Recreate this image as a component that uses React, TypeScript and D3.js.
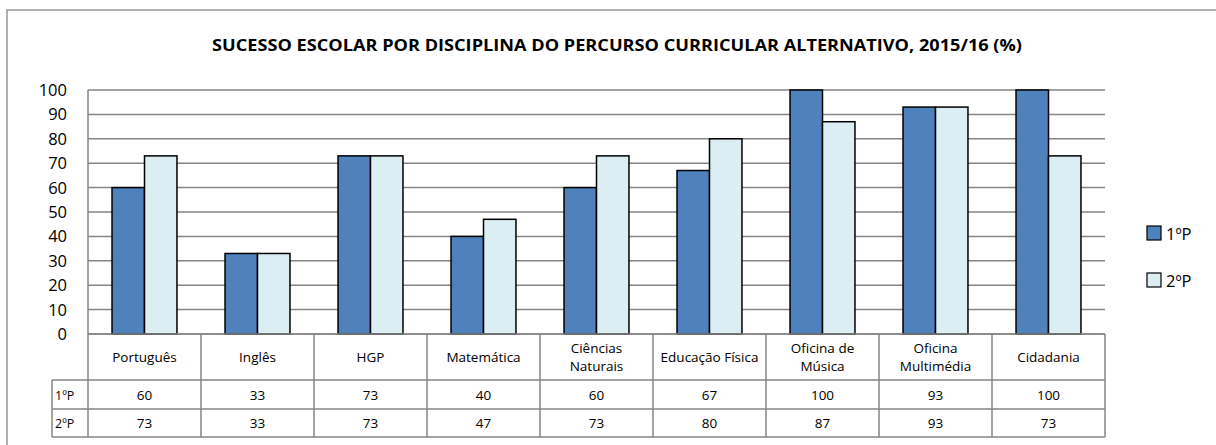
import React from 'react';
import * as d3 from 'd3';

const title = 'SUCESSO ESCOLAR POR DISCIPLINA DO PERCURSO CURRICULAR ALTERNATIVO, 2015/16 (%)';
const categories = ['Português', 'Inglês', 'HGP', 'Matemática', 'Ciências Naturais', 'Educação Física', 'Oficina de Música', 'Oficina Multimédia', 'Cidadania'];
const categoryLines = [['Português'], ['Inglês'], ['HGP'], ['Matemática'], ['Ciências', 'Naturais'], ['Educação Física'], ['Oficina de', 'Música'], ['Oficina', 'Multimédia'], ['Cidadania']];
const seriesNames = ['1ºP', '2ºP'];
const p1 = [60, 33, 73, 40, 60, 67, 100, 93, 100];
const p2 = [73, 33, 73, 47, 73, 80, 87, 93, 73];
const yTicks = [0, 10, 20, 30, 40, 50, 60, 70, 80, 90, 100];
const colors = ['#4F81BD', '#DBEEF3'];

const W = 1216, H = 445;
const left = 88, right = 1105, top = 90, bottom = 334;
const rowCat = 380, row1 = 409, row2 = 437, labelLeft = 52;
const font = '"Open Sans", "Noto Sans", sans-serif';
const grid = '#868686';

const App = () => {
  const x = d3.scaleBand<string>().domain(categories).range([left, right]);
  const xs = d3.scaleBand<string>().domain(seriesNames).range([0, x.bandwidth()]).paddingOuter(0.74);
  const y = d3.scaleLinear().domain([0, 100]).range([bottom, top]);
  const values = [p1, p2];

  return (
    <svg width={W} height={H} style={{ position: 'absolute', left: 0, top: 0, background: '#fff' }} fontFamily={font}>
      <rect x={7} y={10} width={W} height={H} fill="#fff" stroke="#999" strokeWidth={1.5} />
      <text x={617} y={51} textAnchor="middle" fontWeight="bold" fontSize={15.5} textLength={810} lengthAdjust="spacingAndGlyphs">{title}</text>

      {yTicks.map(t => (
        <g key={t}>
          <line x1={left} x2={right} y1={y(t)} y2={y(t)} stroke={grid} strokeWidth={1.5} />
          <text x={67} y={y(t) + 6} textAnchor="end" fontSize={16.5}>{t}</text>
        </g>
      ))}
      <line x1={left} x2={left} y1={top} y2={row2} stroke={grid} strokeWidth={1.5} />

      {categories.map((c, i) => seriesNames.map((s, j) => (
        <rect key={c + s} x={x(c)! + xs(s)!} y={y(values[j][i])} width={xs.bandwidth()} height={bottom - y(values[j][i])}
          fill={colors[j]} stroke="#000" strokeWidth={1.5} />
      )))}

      {/* data table */}
      <g stroke={grid} strokeWidth={1.5}>
        <line x1={left} x2={right} y1={bottom} y2={bottom} />
        <line x1={labelLeft} x2={right} y1={rowCat} y2={rowCat} />
        <line x1={labelLeft} x2={right} y1={row1} y2={row1} />
        <line x1={labelLeft} x2={right} y1={row2} y2={row2} />
        <line x1={labelLeft} x2={labelLeft} y1={rowCat} y2={row2} />
        {categories.map(c => (
          <line key={c} x1={x(c)! + x.bandwidth()} x2={x(c)! + x.bandwidth()} y1={bottom} y2={row2} />
        ))}
      </g>
      {categories.map((c, i) => {
        const cx = x(c)! + x.bandwidth() / 2;
        const lines = categoryLines[i];
        const cy = (bottom + rowCat) / 2;
        return (
          <g key={c} fontSize={13.5} textAnchor="middle">
            {lines.map((l, k) => (
              <text key={k} x={cx} y={cy + 5 + (k - (lines.length - 1) / 2) * 18}>{l}</text>
            ))}
            <text x={cx} y={(rowCat + row1) / 2 + 5}>{p1[i]}</text>
            <text x={cx} y={(row1 + row2) / 2 + 5}>{p2[i]}</text>
          </g>
        );
      })}
      {seriesNames.map((s, j) => (
        <text key={s} x={55} y={(j === 0 ? (rowCat + row1) : (row1 + row2)) / 2 + 5} fontSize={12.5}>{s}</text>
      ))}

      {/* legend */}
      {seriesNames.map((s, j) => (
        <g key={s} transform={`translate(1147, ${226 + j * 47})`}>
          <rect width={14} height={14} fill={colors[j]} stroke="#000" strokeWidth={1.2} />
          <text x={19} y={13.5} fontSize={16.5}>{s}</text>
        </g>
      ))}
    </svg>
  );
};

export default App;
